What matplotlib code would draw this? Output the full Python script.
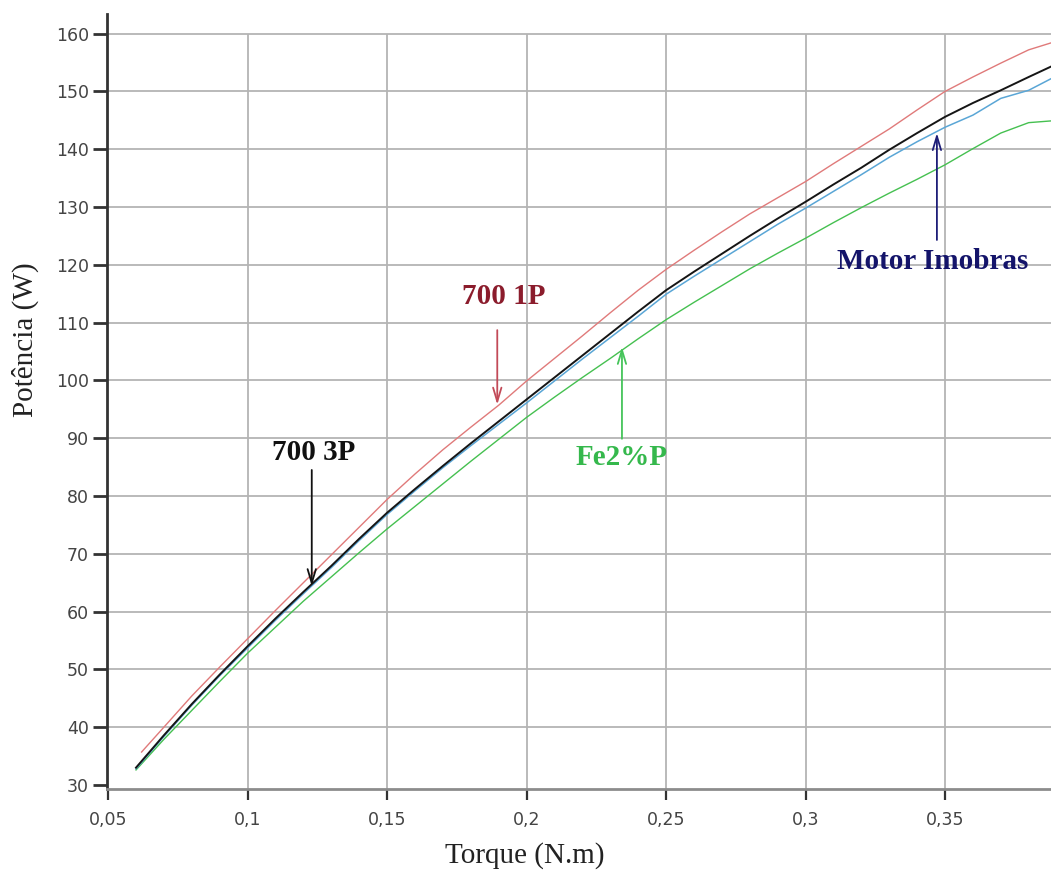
import matplotlib
matplotlib.use("Agg")
import matplotlib.pyplot as plt

# Torque (N.m) sample points and measured power (W) for each motor
torque = [0.060, 0.070, 0.080, 0.090, 0.100, 0.110, 0.120, 0.130, 0.140,
          0.150, 0.160, 0.170, 0.180, 0.190, 0.200, 0.210, 0.220, 0.230,
          0.240, 0.250, 0.260, 0.270, 0.280, 0.290, 0.300, 0.310, 0.320,
          0.330, 0.340, 0.350, 0.360, 0.370, 0.380, 0.388]

torque_1p = [0.062] + torque[1:]

p_700_3p = [33.0, 38.6, 44.0, 49.1, 54.0, 58.8, 63.4, 67.9, 72.6,
            77.1, 81.2, 85.2, 89.1, 92.9, 96.7, 100.5, 104.3, 108.1,
            111.9, 115.6, 118.8, 121.9, 125.0, 128.0, 130.9, 133.9, 136.8,
            139.9, 142.8, 145.6, 148.0, 150.2, 152.5, 154.3]

p_700_1p = [35.7, 40.0, 45.4, 50.4, 55.3, 60.2, 65.0, 69.8, 74.6,
            79.4, 83.8, 88.0, 91.9, 95.7, 99.9, 103.8, 107.7, 111.7,
            115.6, 119.2, 122.5, 125.7, 128.8, 131.6, 134.4, 137.5, 140.5,
            143.5, 146.8, 150.0, 152.5, 154.9, 157.2, 158.4]

p_imobras = [32.8, 38.4, 43.8, 48.9, 53.7, 58.5, 63.1, 67.6, 72.3,
             76.8, 80.9, 84.9, 88.7, 92.4, 96.1, 99.9, 103.7, 107.4,
             111.1, 114.9, 118.0, 121.0, 124.0, 127.0, 129.8, 132.7, 135.6,
             138.6, 141.3, 143.8, 145.9, 148.8, 150.2, 152.2]

p_fe2p = [32.6, 37.9, 42.9, 47.9, 52.8, 57.3, 61.8, 66.0, 70.2,
          74.3, 78.2, 82.1, 86.0, 89.8, 93.6, 97.1, 100.5, 103.8,
          107.2, 110.5, 113.5, 116.4, 119.3, 122.0, 124.6, 127.3, 129.9,
          132.4, 134.8, 137.3, 140.1, 142.8, 144.6, 144.9]

x_ticks = [0.05, 0.10, 0.15, 0.20, 0.25, 0.30, 0.35]
x_tick_labels = ["0,05", "0,1", "0,15", "0,2", "0,25", "0,3", "0,35"]
y_ticks = [30, 40, 50, 60, 70, 80, 90, 100, 110, 120, 130, 140, 150, 160]

# Callouts: label, text position, arrow tail, arrow tip, text colour, arrow colour
callouts = [
    ("700 3P", (0.1238, 87.6), (0.1230, 84.5), (0.1230, 64.4), "#111111", "#111111"),
    ("700 1P", (0.1920, 114.6), (0.1895, 108.7), (0.1895, 95.8), "#8b1c2c", "#c24a58"),
    ("Fe2%P", (0.2342, 86.6), (0.2342, 89.9), (0.2342, 105.8), "#35b84c", "#45c45a"),
    ("Motor Imobras", (0.3457, 120.5), (0.3471, 124.3), (0.3471, 142.8), "#14146a", "#1e1e78"),
]

fig = plt.figure(figsize=(10.51, 8.71), dpi=100)
ax = fig.add_axes([107 / 1051, 1 - 789 / 871, (1051 - 107) / 1051, (789 - 14) / 871])

ax.set_xlim(0.0496, 0.388)
ax.set_ylim(29.3, 163.4)

# grid: horizontal across full width, vertical up to the top tick only
for yv in y_ticks[1:]:
    ax.axhline(yv, color="#b4b4b4", lw=1.3, zorder=0)
for xv in x_ticks[1:]:
    ax.vlines(xv, 29.3, y_ticks[-1], color="#b4b4b4", lw=1.3, zorder=0)

ax.plot(torque_1p, p_700_1p, color="#e07a7a", lw=1.0, zorder=2)
ax.plot(torque, p_fe2p, color="#45c050", lw=1.0, zorder=2)
ax.plot(torque, p_imobras, color="#5aa6d6", lw=1.1, zorder=3)
ax.plot(torque, p_700_3p, color="#151515", lw=1.4, zorder=4)

for label, txt_xy, tail, tip, tcol, acol in callouts:
    ax.annotate("", xy=tip, xytext=tail,
                arrowprops=dict(arrowstyle="->,head_length=1.0,head_width=0.3",
                                color=acol, lw=1.3, shrinkA=0, shrinkB=0),
                zorder=5)
    ax.text(txt_xy[0], txt_xy[1], label, color=tcol, ha="center", va="center",
            family="Liberation Serif", fontweight="bold", fontsize=21, zorder=6)

ax.set_xticks(x_ticks)
ax.set_xticklabels(x_tick_labels)
ax.set_yticks(y_ticks)
ax.tick_params(axis="x", direction="out", length=8, width=1.6, color="#333333",
               labelsize=12.5, labelcolor="#444444", pad=8)
ax.tick_params(axis="y", direction="out", length=10, width=2.0, color="#333333",
               labelsize=12.5, labelcolor="#444444", pad=3)
for lbl in ax.get_xticklabels() + ax.get_yticklabels():
    lbl.set_family("DejaVu Sans")

for side in ("top", "right"):
    ax.spines[side].set_visible(False)
ax.spines["left"].set_color("#333333")
ax.spines["left"].set_linewidth(2.0)
ax.spines["bottom"].set_color("#8c8c8c")
ax.spines["bottom"].set_linewidth(2.0)

fig.text(525 / 1051, 1 - 856 / 871, "Torque (N.m)", ha="center", va="center",
         family="Liberation Serif", fontsize=21, color="#222222")
fig.text(25 / 1051, 1 - 340 / 871, "Potência (W)", ha="center", va="center",
         rotation=90, family="Liberation Serif", fontsize=21, color="#222222")

fig.savefig("out.png", dpi=100)
